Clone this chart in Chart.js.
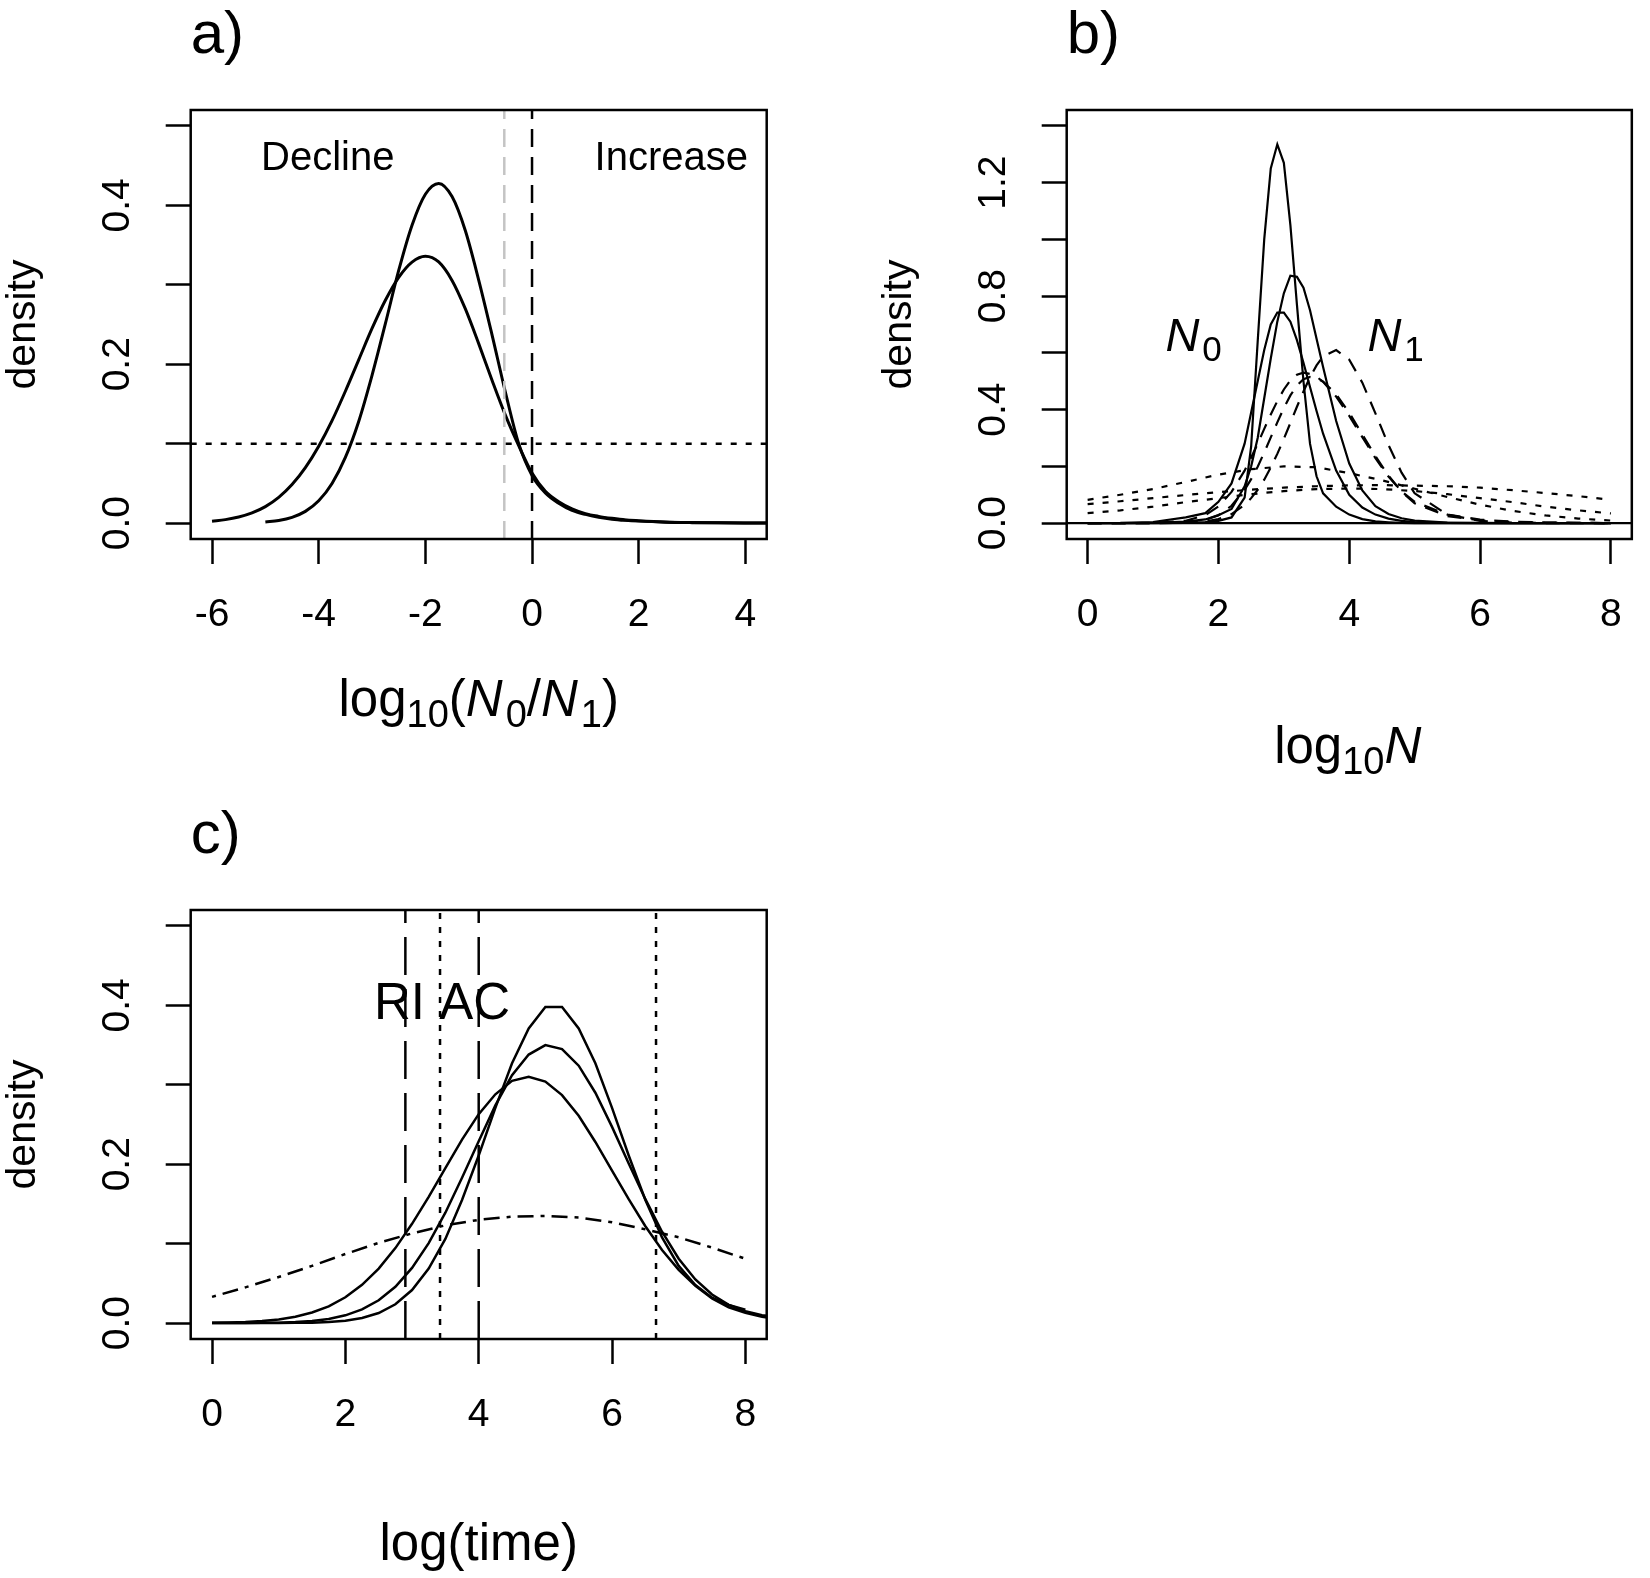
<!DOCTYPE html>
<html>
<head>
<meta charset="utf-8">
<script src="https://cdn.jsdelivr.net/npm/chart.js@4.4.1/dist/chart.umd.min.js"></script>
<style>
  html, body { margin: 0; padding: 0; background: #fff; }
  #page { position: relative; width: 1650px; height: 1578px; overflow: hidden; background: #fff; }
  canvas { position: absolute; }
</style>
</head>
<body>
<div id="page">
  <canvas id="chart-a" width="825" height="789" style="left:0;top:0"></canvas>
  <canvas id="chart-b" width="825" height="789" style="left:825px;top:0"></canvas>
  <canvas id="chart-c" width="825" height="778" style="left:0;top:800px"></canvas>
</div>
<script>
/* ---- Panel a: log10(N0/N1) densities ---- */
const A_X = [-6, -5.75, -5.5, -5.25, -5, -4.75, -4.5, -4.25, -4, -3.75, -3.5, -3.25, -3, -2.75, -2.5, -2.25,
             -2, -1.75, -1.5, -1.25, -1, -0.75, -0.5, -0.25, 0, 0.25, 0.5, 0.75, 1, 1.25, 1.5, 1.75, 2,
             2.5, 3, 3.5, 4, 4.5];
const A_NARROW = [null, null, null, null, 0.0014, 0.0033, 0.0073, 0.0148, 0.0281, 0.0499, 0.0827, 0.128, 0.186,
                  0.251, 0.318, 0.375, 0.414, 0.4276, 0.411, 0.368, 0.306, 0.237, 0.165, 0.100, 0.060, 0.038,
                  0.025, 0.016, 0.011, 0.0075, 0.005, 0.0035, 0.0025, 0.0012, 0.0006, 0.0003, 0.0002, 0.0001];
const A_WIDE = [0.0024, 0.0044, 0.0077, 0.0129, 0.0208, 0.0324, 0.0485, 0.0698, 0.0968, 0.129, 0.166, 0.2055,
                0.245, 0.2805, 0.3094, 0.3286, 0.336, 0.3287, 0.3055, 0.2696, 0.2259, 0.1798, 0.1359, 0.0975,
                0.063, 0.040, 0.027, 0.018, 0.012, 0.0085, 0.006, 0.004, 0.003, 0.0015, 0.0008, 0.0004, 0.0002, 0.0001];
const A_ZERO_LINE = 0;        // black dashed
const A_GREY_LINE = -0.52;    // grey dashed
const A_THRESHOLD = 0.1;      // dotted horizontal
const A_XTICKS = [-6, -4, -2, 0, 2, 4];
const A_YTICKS = [0, 0.1, 0.2, 0.3, 0.4, 0.5];
const A_YLABELS = [0, 0.2, 0.4];
const A_NOTES = [['Decline', -3.83, 0.458], ['Increase', 2.61, 0.458]];

/* ---- Panel b: log10 N densities ---- */
const B_X = [0, 0.5, 1, 1.5, 1.8, 2, 2.2, 2.4, 2.5, 2.6, 2.7, 2.8, 2.9, 3, 3.1, 3.2, 3.3, 3.4, 3.5, 3.6,
             3.8, 4, 4.2, 4.4, 4.6, 4.8, 5, 5.5, 6, 6.5, 7, 7.5, 8];
const B_N0_A = [0, 0, 0, 0.001, 0.004, 0.008, 0.02, 0.09, 0.27, 0.64, 1.0, 1.25, 1.335, 1.27, 1.05, 0.77, 0.5,
                0.28, 0.165, 0.105, 0.058, 0.03, 0.014, 0.006, 0.003, 0.001, 0, 0, 0, 0, 0, 0, 0];
const B_N0_B = [0, 0, 0.001, 0.005, 0.013, 0.028, 0.05, 0.13, 0.2, 0.3, 0.44, 0.58, 0.71, 0.81, 0.872, 0.868,
                0.83, 0.75, 0.65, 0.55, 0.36, 0.21, 0.115, 0.06, 0.032, 0.017, 0.009, 0.002, 0.0005, 0, 0, 0, 0];
const B_N0_C = [0, 0.0005, 0.004, 0.02, 0.035, 0.075, 0.14, 0.28, 0.39, 0.5, 0.61, 0.7, 0.742, 0.742, 0.71,
                0.645, 0.565, 0.48, 0.395, 0.315, 0.185, 0.1, 0.055, 0.03, 0.016, 0.008, 0.004, 0.001, 0, 0, 0, 0, 0];
const B_N1_A = [0, 0, 0, 0.001, 0.006, 0.014, 0.032, 0.064, 0.088, 0.117, 0.153, 0.196, 0.244, 0.297, 0.353,
                0.41, 0.464, 0.514, 0.556, 0.587, 0.61, 0.576, 0.495, 0.387, 0.275, 0.178, 0.105, 0.03, 0.008,
                0.002, 0, 0, 0];
const B_N1_B = [0, 0, 0.001, 0.008, 0.028, 0.059, 0.11, 0.185, 0.231, 0.28, 0.332, 0.383, 0.43, 0.471, 0.503,
                0.523, 0.53, 0.526, 0.516, 0.498, 0.446, 0.378, 0.303, 0.229, 0.164, 0.112, 0.075, 0.03, 0.012,
                0.005, 0.002, 0.001, 0];
const B_N1_C = [0, 0, 0, 0.002, 0.011, 0.028, 0.061, 0.117, 0.155, 0.199, 0.249, 0.302, 0.355, 0.406, 0.45,
                0.485, 0.507, 0.515, 0.511, 0.499, 0.454, 0.389, 0.312, 0.236, 0.167, 0.111, 0.07, 0.025, 0.01,
                0.004, 0.002, 0.001, 0];
const B_XD = [0, 0.5, 1, 1.5, 2, 2.5, 3, 3.5, 4, 4.5, 5, 5.5, 6, 6.5, 7, 7.5, 8];
const B_PRIOR_A = [0.082, 0.1, 0.12, 0.145, 0.171, 0.19, 0.2, 0.197, 0.176, 0.151, 0.121, 0.092, 0.065, 0.043, 0.027, 0.016, 0.009];
const B_PRIOR_B = [0.067, 0.077, 0.088, 0.099, 0.109, 0.118, 0.125, 0.13, 0.133, 0.134, 0.132, 0.13, 0.125, 0.116, 0.106, 0.095, 0.082];
const B_PRIOR_C = [0.035, 0.045, 0.058, 0.074, 0.088, 0.102, 0.113, 0.12, 0.122, 0.12, 0.113, 0.102, 0.088, 0.074, 0.058, 0.045, 0.034];
const B_XTICKS = [0, 2, 4, 6, 8];
const B_YTICKS = [0, 0.2, 0.4, 0.6, 0.8, 1.0, 1.2, 1.4];
const B_YLABELS = [0, 0.4, 0.8, 1.2];
const B_NOTES = [['0', 1.62, 0.607], ['1', 4.71, 0.607]];   // N with subscript

/* ---- Panel c: log(time) densities ---- */
const C_X = [0, 0.25, 0.5, 0.75, 1, 1.25, 1.5, 1.75, 2, 2.25, 2.5, 2.75, 3, 3.25, 3.5, 3.75, 4, 4.25, 4.5,
             4.75, 5, 5.25, 5.5, 5.75, 6, 6.25, 6.5, 6.75, 7, 7.25, 7.5, 7.75, 8, 8.25, 8.5];
const C_A = [0, 0, 0, 0, 0.0001, 0.0003, 0.0006, 0.0013, 0.003, 0.0064, 0.0127, 0.0237, 0.0416, 0.0686, 0.106,
             0.155, 0.211, 0.271, 0.327, 0.371, 0.398, 0.398, 0.371, 0.327, 0.271, 0.211, 0.155, 0.108, 0.072,
             0.048, 0.032, 0.023, 0.017, null, null];
const C_B = [0, 0, 0.0001, 0.0003, 0.0006, 0.0014, 0.0027, 0.0053, 0.0098, 0.0172, 0.0287, 0.0457, 0.0695,
             0.1007, 0.139, 0.183, 0.229, 0.274, 0.312, 0.338, 0.35, 0.345, 0.324, 0.29, 0.247, 0.201, 0.156,
             0.115, 0.081, 0.055, 0.036, 0.023, 0.015, 0.01, 0.007];
const C_C = [0.0004, 0.0007, 0.0014, 0.0026, 0.0046, 0.008, 0.0133, 0.0211, 0.0325, 0.0482, 0.0687, 0.0944,
             0.125, 0.159, 0.195, 0.231, 0.263, 0.288, 0.305, 0.31, 0.304, 0.287, 0.261, 0.228, 0.192, 0.156,
             0.122, 0.092, 0.067, 0.047, 0.031, 0.02, 0.013, 0.008, 0.005];
const C_XD = [0, 0.5, 1, 1.5, 2, 2.5, 3, 3.5, 4, 4.5, 5, 5.5, 6, 6.5, 7, 7.5, 8];
const C_PRIOR = [0.033, 0.045, 0.058, 0.072, 0.087, 0.101, 0.113, 0.123, 0.13, 0.134, 0.135, 0.133, 0.127, 0.118, 0.108, 0.095, 0.081];
const C_LONGDASH = [2.9, 4.0];
const C_DOTTED = [3.42, 6.66];
const C_XTICKS = [0, 2, 4, 6, 8];
const C_YTICKS = [0, 0.1, 0.2, 0.3, 0.4, 0.5];
const C_YLABELS = [0, 0.2, 0.4];
const C_NOTE = ['RI AC', 3.45, 0.40];

const FONT = '"Liberation Sans", Arial, Helvetica, sans-serif';
const DOTTED = [6, 9];

function series(xs, ys, opts = {}) {
  return {
    data: xs.map((x, i) => ({ x, y: ys[i] })),
    borderColor: opts.color || '#000',
    borderWidth: opts.width || 2,
    borderDash: opts.dash || [],
    pointRadius: 0,
    fill: false,
    spanGaps: false,
    tension: 0,
    cubicInterpolationMode: opts.smooth ? 'monotone' : 'default'
  };
}

function vline(v, yr, opts) { return series([v, v], [yr[0], yr[1]], opts); }
function hline(v, xr, opts) { return series([xr[0], xr[1]], [v, v], opts); }

function scales(xr, yr, xTicks, yTicks, yLabels, yAxisW, xAxisH) {
  const tickFont = { family: FONT, size: 39 };
  const grid = { drawOnChartArea: false, drawTicks: true, tickLength: 25, tickColor: '#000', tickWidth: 2.5 };
  return {
    x: {
      type: 'linear', min: xr[0], max: xr[1],
      afterBuildTicks: ax => { ax.ticks = xTicks.map(v => ({ value: v })); },
      afterFit: ax => { ax.height = xAxisH; },
      grid, border: { display: false },
      ticks: { autoSkip: false, maxRotation: 0, padding: 28, color: '#000', font: tickFont, callback: v => String(v) }
    },
    y: {
      type: 'linear', min: yr[0], max: yr[1],
      afterBuildTicks: ax => { ax.ticks = yTicks.map(v => ({ value: v })); },
      afterFit: ax => { ax.width = yAxisW; },
      grid, border: { display: false },
      ticks: {
        autoSkip: false, minRotation: 90, maxRotation: 90, crossAlign: 'center', padding: 20,
        color: '#000', font: tickFont,
        callback: v => yLabels.includes(v) ? v.toFixed(1) : ''
      }
    }
  };
}

/* ---- text helpers ---- */
function setFont(ctx, size, italic) {
  ctx.font = (italic ? 'italic ' : '') + size + 'px ' + FONT;
}

// parts: [text, 'n' | 'i' | 's'] normal / italic / subscript
function mathText(ctx, parts, cx, baseY, size) {
  const sub = Math.round(size * 0.74);
  let w = 0;
  parts.forEach(([t, k]) => {
    setFont(ctx, k === 's' ? sub : size, k === 'i');
    w += ctx.measureText(t).width + (k === 'i' ? size * 0.06 : 0);
  });
  let x = cx - w / 2;
  ctx.textAlign = 'left';
  ctx.textBaseline = 'alphabetic';
  parts.forEach(([t, k]) => {
    setFont(ctx, k === 's' ? sub : size, k === 'i');
    ctx.fillText(t, x, baseY + (k === 's' ? size * 0.22 : 0));
    x += ctx.measureText(t).width + (k === 'i' ? size * 0.06 : 0);
  });
}

function frameAndLabels(letter, xLabel, xLabelDrop) {
  return {
    id: 'frame',
    afterDatasetsDraw(chart) {
      const { ctx, chartArea: a } = chart;
      ctx.save();
      ctx.strokeStyle = '#000';
      ctx.lineWidth = 2.5;
      ctx.strokeRect(a.left, a.top, a.right - a.left, a.bottom - a.top);
      ctx.fillStyle = '#000';
      // panel letter
      setFont(ctx, 60, false);
      ctx.textAlign = 'left';
      ctx.textBaseline = 'alphabetic';
      ctx.fillText(letter, a.left, a.top - 57);
      // x label
      mathText(ctx, xLabel, (a.left + a.right) / 2, a.bottom + xLabelDrop, 51);
      // y label
      ctx.save();
      ctx.translate(a.left - 156, (a.top + a.bottom) / 2);
      ctx.rotate(-Math.PI / 2);
      setFont(ctx, 41, false);
      ctx.textAlign = 'center';
      ctx.textBaseline = 'alphabetic';
      ctx.fillText('density', 0, 0);
      ctx.restore();
      ctx.restore();
    }
  };
}

function notesPlugin(draw) {
  return {
    id: 'notes',
    afterDatasetsDraw(chart) {
      const { ctx } = chart;
      const px = v => chart.scales.x.getPixelForValue(v);
      const py = v => chart.scales.y.getPixelForValue(v);
      ctx.save();
      ctx.fillStyle = '#000';
      draw(ctx, px, py);
      ctx.restore();
    }
  };
}

function baseOptions(sc) {
  return {
    responsive: false,
    animation: false,
    devicePixelRatio: 1,
    events: [],
    layout: { padding: { top: 110, right: 0, left: 0, bottom: 0 } },
    plugins: { legend: { display: false }, tooltip: { enabled: false } },
    scales: sc
  };
}

/* ---- Panel a ---- */
function renderPanelA() {
  const xr = [-6.4, 4.4], yr = [-0.02, 0.52];
  const opts = baseOptions(scales(xr, yr, A_XTICKS, A_YTICKS, A_YLABELS, 190.7, 250));
  opts.layout.padding.right = 58.3;
  new Chart(document.getElementById('chart-a'), {
    type: 'line',
    data: {
      datasets: [
        hline(A_THRESHOLD, xr, { dash: DOTTED, width: 2.5 }),
        vline(A_GREY_LINE, yr, { dash: [18, 10], width: 2.5, color: '#c4c4c4' }),
        vline(A_ZERO_LINE, yr, { dash: [18, 10], width: 2.5 }),
        series(A_X, A_WIDE, { width: 3, smooth: true }),
        series(A_X, A_NARROW, { width: 3, smooth: true })
      ]
    },
    options: opts,
    plugins: [
      frameAndLabels('a)', [['log', 'n'], ['10', 's'], ['(', 'n'], ['N', 'i'], ['0', 's'], ['/', 'n'], ['N', 'i'], ['1', 's'], [')', 'n']], 177),
      notesPlugin((ctx, px, py) => {
        setFont(ctx, 40, false);
        ctx.textAlign = 'center';
        ctx.textBaseline = 'middle';
        A_NOTES.forEach(([t, x, y]) => ctx.fillText(t, px(x), py(y)));
      })
    ]
  });
}

/* ---- Panel b ---- */
function renderPanelB() {
  const xr = [-0.32, 8.32], yr = [-0.056, 1.456];
  const opts = baseOptions(scales(xr, yr, B_XTICKS, B_YTICKS, B_YLABELS, 241.7, 250));
  opts.layout.padding.right = 7.3;
  const dash = [14, 10];
  new Chart(document.getElementById('chart-b'), {
    type: 'line',
    data: {
      datasets: [
        hline(0, xr, { width: 2.2 }),
        series(B_XD, B_PRIOR_A, { dash: DOTTED, width: 2.2 }),
        series(B_XD, B_PRIOR_B, { dash: DOTTED, width: 2.2 }),
        series(B_XD, B_PRIOR_C, { dash: DOTTED, width: 2.2 }),
        series(B_X, B_N1_A, { dash, width: 2.2 }),
        series(B_X, B_N1_B, { dash, width: 2.2 }),
        series(B_X, B_N1_C, { dash, width: 2.2 }),
        series(B_X, B_N0_A, { width: 2.2 }),
        series(B_X, B_N0_B, { width: 2.2 }),
        series(B_X, B_N0_C, { width: 2.2 })
      ]
    },
    options: opts,
    plugins: [
      frameAndLabels('b)', [['log', 'n'], ['10', 's'], ['N', 'i']], 224),
      notesPlugin((ctx, px, py) => {
        B_NOTES.forEach(([s, x, y]) => mathText(ctx, [['N', 'i'], [s, 's']], px(x), py(y), 47));
      })
    ]
  });
}

/* ---- Panel c ---- */
function renderPanelC() {
  const xr = [-0.32, 8.32], yr = [-0.02, 0.52];
  const opts = baseOptions(scales(xr, yr, C_XTICKS, C_YTICKS, C_YLABELS, 190.7, 239));
  opts.layout.padding.right = 58.3;
  const sets = [];
  C_LONGDASH.forEach(v => sets.push(vline(v, yr, { dash: [38, 14], width: 2.5 })));
  C_DOTTED.forEach(v => sets.push(vline(v, yr, { dash: [6, 8], width: 2.5 })));
  sets.push(series(C_XD, C_PRIOR, { dash: [4, 7, 16, 7], width: 2.5 }));
  sets.push(series(C_X, C_C, { width: 2.5 }));
  sets.push(series(C_X, C_B, { width: 2.5 }));
  sets.push(series(C_X, C_A, { width: 2.5 }));
  new Chart(document.getElementById('chart-c'), {
    type: 'line',
    data: { datasets: sets },
    options: opts,
    plugins: [
      frameAndLabels('c)', [['log(time)', 'n']], 221),
      notesPlugin((ctx, px, py) => {
        setFont(ctx, 51, false);
        ctx.textAlign = 'center';
        ctx.textBaseline = 'middle';
        ctx.fillText(C_NOTE[0], px(C_NOTE[1]), py(C_NOTE[2]));
      })
    ]
  });
}

renderPanelA();
renderPanelB();
renderPanelC();
</script>
</body>
</html>
